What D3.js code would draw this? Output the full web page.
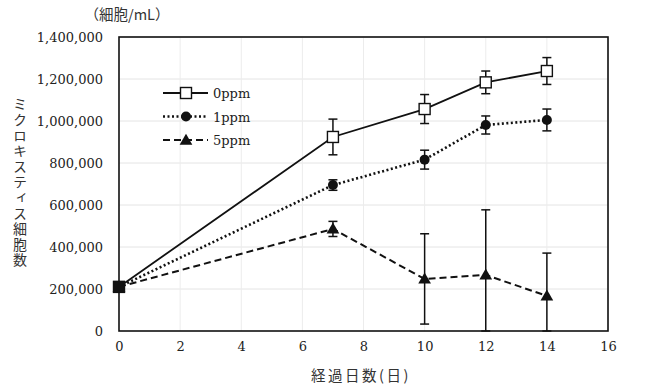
<!DOCTYPE html>
<html><head><meta charset="utf-8">
<script src="https://cdn.jsdelivr.net/npm/d3@7"></script>
<style>
body{margin:0;background:#fff;}
svg{display:block;}
</style></head>
<body>
<svg id="c" width="647" height="387"></svg>
<script>
const days = [0, 7, 10, 12, 14];
const seriesNames = ["0ppm", "1ppm", "5ppm"];
const ppm0 = [210000, 924000, 1057000, 1184000, 1238000];
const ppm0Err = [0, 85000, 69000, 54000, 64000];
const ppm1 = [210000, 695000, 816000, 981000, 1005000];
const ppm1Err = [0, 25000, 45000, 43000, 52000];
const ppm5 = [210000, 486000, 248000, 267000, 167000];
const ppm5Err = [0, 36000, 215000, 310000, 204000];
const xTicks = [0, 2, 4, 6, 8, 10, 12, 14, 16];
const yTicks = [0, 200000, 400000, 600000, 800000, 1000000, 1200000, 1400000];
const yTitle = "ミクロキスティス細胞数";
const xTitle = "経過日数(日)";
const unitLabel = "（細胞/mL）";

const svg = d3.select("#c");
const L = 119, R = 608, T = 37, B = 331;
const x = d3.scaleLinear().domain([0, 16]).range([L, R]);
const y = d3.scaleLinear().domain([0, 1400000]).range([B, T]);
const serif = "'DejaVu Serif','Liberation Serif',serif";
const jp = "'Noto Sans CJK JP','Noto Sans CJK SC',sans-serif";

// grid
svg.append("g").selectAll("line").data(yTicks.slice(1)).join("line")
  .attr("x1", L).attr("x2", R).attr("y1", d => y(d)).attr("y2", d => y(d))
  .attr("stroke", "#e4e4e4").attr("stroke-width", 1);
svg.append("g").selectAll("line").data(xTicks.slice(1)).join("line")
  .attr("x1", d => x(d)).attr("x2", d => x(d)).attr("y1", T).attr("y2", B)
  .attr("stroke", "#ececec").attr("stroke-width", 1);

// axes
const yAxis = d3.axisLeft(y).tickValues(yTicks).tickSize(0).tickPadding(16)
  .tickFormat(d3.format(","));
const gy = svg.append("g").attr("transform", `translate(${L},0)`).call(yAxis);
gy.select(".domain").remove();
gy.selectAll("text").attr("font-family", serif).attr("font-size", 13).attr("fill", "#222");

const xAxis = d3.axisBottom(x).tickValues(xTicks).tickSize(0).tickPadding(11);
const gx = svg.append("g").attr("transform", `translate(0,${B})`).call(xAxis);
gx.select(".domain").remove();
gx.selectAll("text").attr("font-family", serif).attr("font-size", 13).attr("fill", "#222");

// frame
svg.append("rect").attr("x", L).attr("y", T).attr("width", R - L).attr("height", B - T)
  .attr("fill", "none").attr("stroke", "#111").attr("stroke-width", 1.6);

// titles
svg.append("text").attr("x", 127).attr("y", 20).attr("text-anchor", "middle")
  .attr("font-family", jp).attr("font-size", 14.5).attr("fill", "#333").text(unitLabel);
svg.append("text").attr("x", 20).attr("y", 97)
  .attr("font-family", jp).attr("font-size", 14).attr("fill", "#333")
  .attr("letter-spacing", 1.6)
  .style("writing-mode", "vertical-rl").style("text-orientation", "upright")
  .text(yTitle);
svg.append("text").attr("x", 361).attr("y", 381).attr("text-anchor", "middle")
  .attr("font-family", jp).attr("font-size", 14.5).attr("fill", "#333").attr("letter-spacing", 2.5).text(xTitle);

const series = [
  {name: seriesNames[0], vals: ppm0, err: ppm0Err, dash: null, width: 1.8, mark: "square"},
  {name: seriesNames[1], vals: ppm1, err: ppm1Err, dash: "2,2.5", width: 2.6, mark: "circle"},
  {name: seriesNames[2], vals: ppm5, err: ppm5Err, dash: "7,4", width: 2, mark: "triangle"}
];

const line = d3.line().x(d => x(d.d)).y(d => y(d.v));
const clip = v => Math.max(0, Math.min(1400000, v));

function drawMarker(g, type, cx, cy) {
  if (type === "square") {
    g.append("rect").attr("x", cx - 5.5).attr("y", cy - 5.5).attr("width", 11).attr("height", 11)
      .attr("fill", "#fff").attr("stroke", "#111").attr("stroke-width", 1.4);
  } else if (type === "circle") {
    g.append("circle").attr("cx", cx).attr("cy", cy).attr("r", 5).attr("fill", "#111");
  } else {
    g.append("path").attr("d", d3.symbol(d3.symbolTriangle, 70)()).attr("transform", `translate(${cx},${cy + 1})`)
      .attr("fill", "#111");
  }
}

series.forEach(s => {
  const pts = days.map((d, i) => ({d, v: s.vals[i], e: s.err[i]}));
  const g = svg.append("g");
  pts.filter(p => p.e > 0).forEach(p => {
    const hi = y(clip(p.v + p.e)), lo = y(clip(p.v - p.e));
    g.append("line").attr("x1", x(p.d)).attr("x2", x(p.d)).attr("y1", hi).attr("y2", lo)
      .attr("stroke", "#111").attr("stroke-width", 1.5);
    [hi, lo].forEach(yy => g.append("line").attr("x1", x(p.d) - 4.5).attr("x2", x(p.d) + 4.5)
      .attr("y1", yy).attr("y2", yy).attr("stroke", "#111").attr("stroke-width", 1.5));
  });
  g.append("path").datum(pts).attr("d", line).attr("fill", "none").attr("stroke", "#111")
    .attr("stroke-width", s.width).attr("stroke-dasharray", s.dash);
  pts.forEach(p => drawMarker(g, s.mark, x(p.d), y(p.v)));
});
// day 0 shared marker (black)
svg.append("rect").attr("x", x(0) - 6).attr("y", y(ppm0[0]) - 6).attr("width", 12).attr("height", 12).attr("fill", "#111");

// legend
const lg = svg.append("g");
series.forEach((s, i) => {
  const yy = 93 + i * 23.5;
  lg.append("line").attr("x1", 163).attr("x2", 208).attr("y1", yy).attr("y2", yy)
    .attr("stroke", "#111").attr("stroke-width", s.width).attr("stroke-dasharray", s.dash);
  drawMarker(lg, s.mark, 186, yy);
  lg.append("text").attr("x", 213).attr("y", yy + 5).attr("font-family", serif).attr("font-size", 13)
    .attr("fill", "#222").text(s.name);
});
</script>
</body></html>
